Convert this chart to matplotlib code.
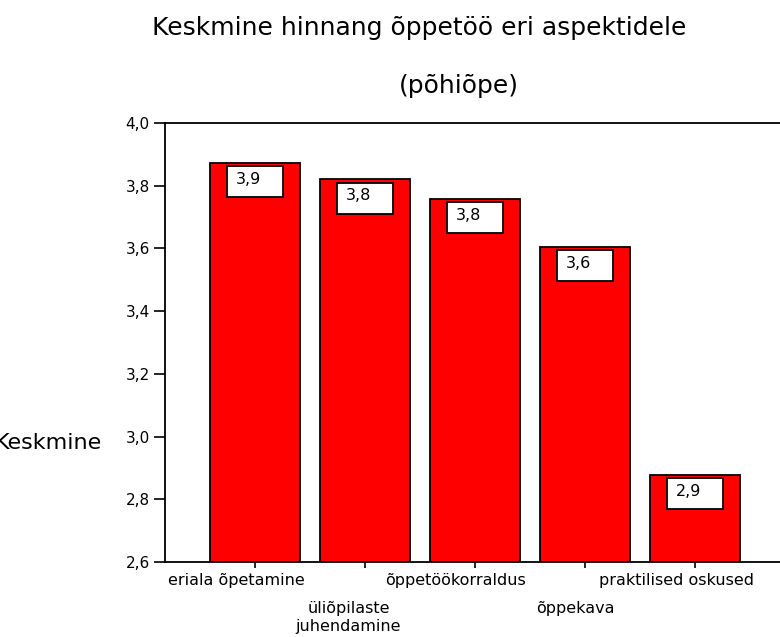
import matplotlib
matplotlib.use("Agg")
import matplotlib.pyplot as plt
from matplotlib.patches import Rectangle
import numpy as np

categories = ["eriala õpetamine", "üliõpilaste\njuhendamine", "õppetöökorraldus",
              "õppekava", "praktilised oskused"]
values = [3.872, 3.820, 3.758, 3.605, 2.877]
yticks = [2.6, 2.8, 3.0, 3.2, 3.4, 3.6, 3.8, 4.0]
ytick_labels = ["2,6", "2,8", "3,0", "3,2", "3,4", "3,6", "3,8", "4,0"]

plt.rcParams['font.family'] = ['DejaVu Sans']

fig = plt.figure(figsize=(7.8, 6.37), dpi=100)
ax = fig.add_axes([165/780, 1-562/637, 1-165/780, (562-123)/637])

x = np.arange(len(categories))
ax.bar(x, [v - 2.6 for v in values], bottom=2.6, width=0.81,
       color="#ff0000", edgecolor="black", linewidth=1.3, zorder=2)

ax.set_ylim(2.6, 4.0)
ax.set_xlim(-0.818, 4.773)
ax.set_yticks(yticks)
ax.set_yticklabels(ytick_labels, fontsize=11)

# value boxes
bw, bh, gap = 0.51, 0.099, 0.01
for xi, v in zip(x, values):
    rect = Rectangle((xi - bw/2, v - gap - bh), bw, bh, facecolor="white",
                     edgecolor="black", linewidth=1.3, zorder=3)
    ax.add_patch(rect)
    ax.text(xi - bw/2 + 0.08, v - gap - bh*0.42, f"{v:.1f}".replace(".", ","),
            fontsize=11.5, ha="left", va="center", zorder=4)

# x tick marks at bar centres, labels shifted left, alternating rows
ax.set_xticks(x)
ax.set_xticklabels([""] * len(x))
ax.tick_params(axis="x", length=4, width=1.2, direction="out")
ax.tick_params(axis="y", length=8, width=1.2, direction="out", pad=3)
shifts = [-0.165, -0.15, -0.18, -0.09, -0.165]
for i, (xi, c) in enumerate(zip(x, categories)):
    off = -8 if i % 2 == 0 else -28
    ax.annotate(c, xy=(xi + shifts[i], 0), xycoords=("data", "axes fraction"),
                xytext=(0, off), textcoords="offset points",
                ha="center", va="top", fontsize=11.5, linespacing=1.3,
                annotation_clip=False)

for s in ["top", "left", "bottom"]:
    ax.spines[s].set_linewidth(1.3)
ax.spines["right"].set_visible(False)

fig.text(102/780, 1-449/637, "Keskmine", fontsize=16, ha="right", va="baseline")
fig.text(419/780, 1-35/637, "Keskmine hinnang õppetöö eri aspektidele",
         fontsize=18, ha="center", va="baseline")
fig.text(459/780, 1-93/637, "(põhiõpe)", fontsize=18, ha="center", va="baseline")

fig.savefig("out.png", dpi=100)
